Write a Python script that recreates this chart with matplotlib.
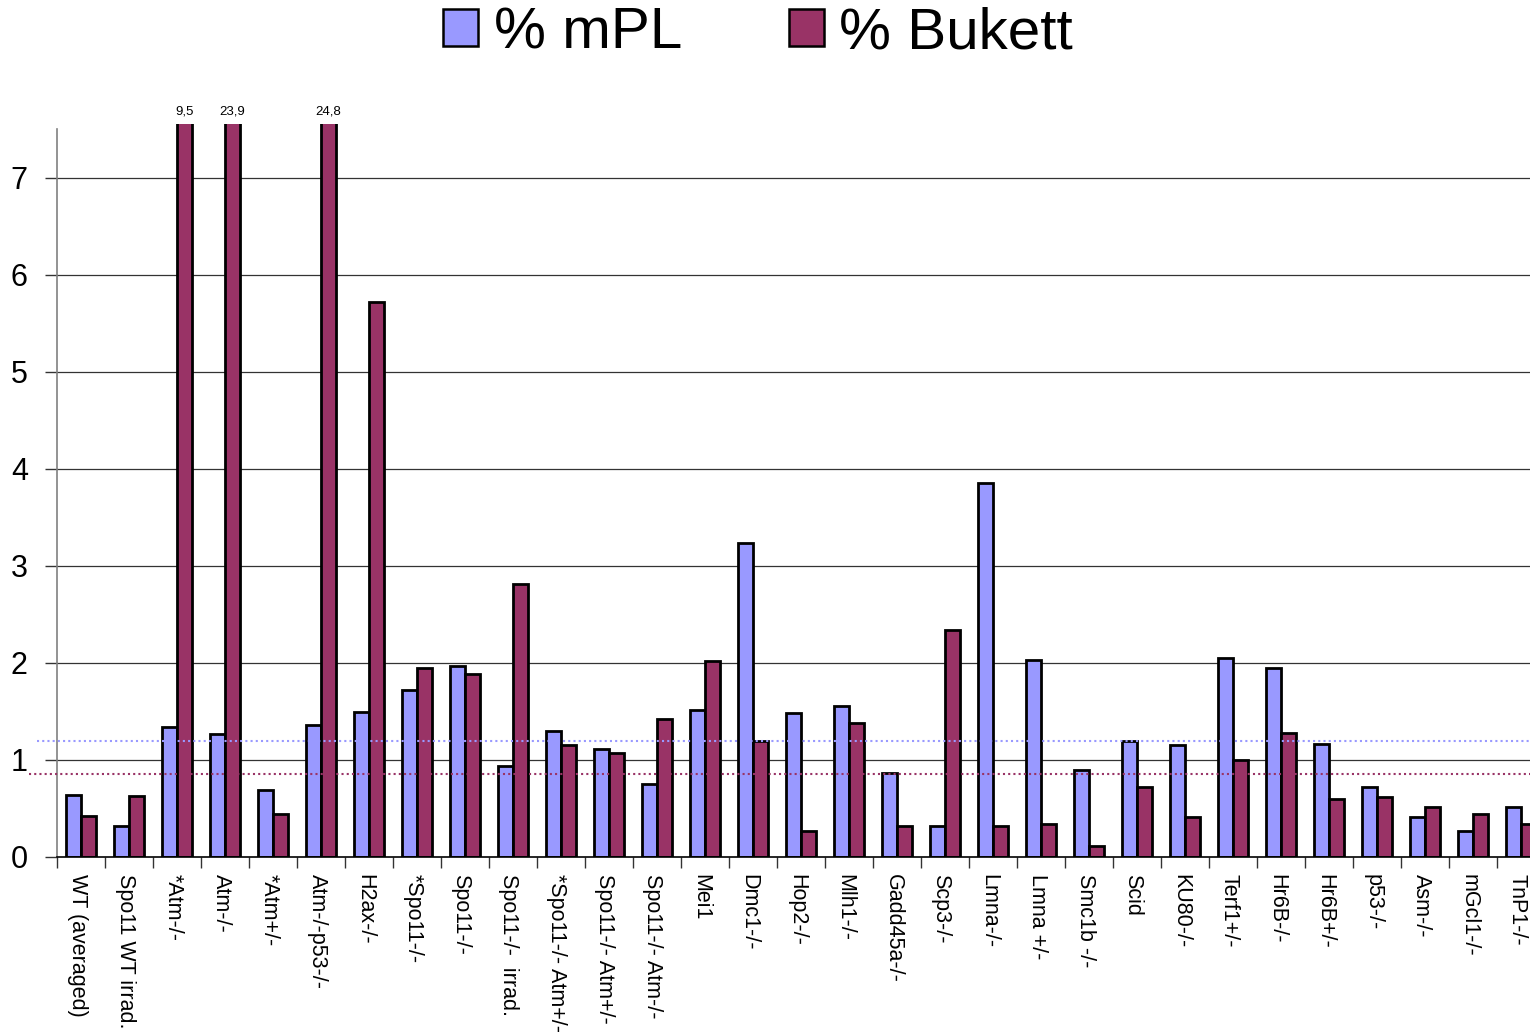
import matplotlib
matplotlib.use("Agg")
import matplotlib.pyplot as plt
import matplotlib.transforms as mtransforms
import numpy as np
from matplotlib.patches import Patch

plt.rcParams['font.family'] = ['Liberation Sans', 'DejaVu Sans']

categories = [
    "WT (averaged)", "Spo11 WT irrad.", "*Atm-/-", "Atm-/-", "*Atm+/-",
    "Atm-/-p53-/-", "H2ax-/-", "*Spo11-/-", "Spo11-/-", "Spo11-/-  irrad.",
    "*Spo11-/- Atm+/-", "Spo11-/- Atm+/-", "Spo11-/- Atm-/-", "Mei1", "Dmc1-/-",
    "Hop2-/-", "Mlh1-/-", "Gadd45a-/-", "Scp3-/-", "Lmna-/-",
    "Lmna +/-", "Smc1b -/-", "Scid", "KU80-/-", "Terf1+/-",
    "Hr6B-/-", "Hr6B+/-", "p53-/-", "Asm-/-", "mGcl1-/-", "TnP1-/-",
]
mpl_pct = [
    0.64, 0.32, 1.34, 1.27, 0.69,
    1.36, 1.49, 1.72, 1.97, 0.94,
    1.30, 1.11, 0.75, 1.51, 3.24,
    1.48, 1.56, 0.87, 0.32, 3.85,
    2.03, 0.90, 1.19, 1.15, 2.05,
    1.95, 1.16, 0.72, 0.41, 0.27, 0.52,
]
bukett_pct = [
    0.42, 0.63, 9.5, 23.9, 0.44,
    24.8, 5.72, 1.95, 1.89, 2.81,
    1.15, 1.07, 1.42, 2.02, 1.19,
    0.27, 1.38, 0.32, 2.34, 0.32,
    0.34, 0.11, 0.72, 0.41, 1.00,
    1.28, 0.60, 0.62, 0.52, 0.44, 0.34,
]
mpl_mean = 1.19
bukett_mean = 0.86

BLUE = "#9999FF"
RED = "#993366"

W, H = 1530, 1032
fig = plt.figure(figsize=(W / 100, H / 100), dpi=100)
ax_left, ax_bottom, ax_right, ax_top = 57, 857, 1545, 124
ax = fig.add_axes([ax_left / W, (H - ax_bottom) / H,
                   (ax_right - ax_left) / W, (ax_bottom - ax_top) / H])

n = len(categories)
x = np.arange(n)
bw = 0.3125
ymax_axis = 7.5
ytop = ymax_axis * (ax_bottom - ax_top) / (ax_bottom - 129)

ax.bar(x - bw / 2, mpl_pct, bw, color=BLUE, edgecolor="black", linewidth=2.0, zorder=3)
ax.bar(x + bw / 2, bukett_pct, bw, color=RED, edgecolor="black", linewidth=2.0, zorder=3)

ax.set_xlim(-0.5, n - 0.5)
ax.set_ylim(0, ytop)

# values of bars running off the top of the scale
for xi, v in zip(x, bukett_pct):
    if v > ymax_axis:
        ax.text(xi + bw / 2, ytop + 0.13, f"{v:.1f}".replace(".", ","),
                ha="center", va="center", fontsize=9.5, clip_on=False)

# grid lines
for yv in range(1, 8):
    ax.axhline(yv, color="#333333", linewidth=0.9, zorder=1)

# mean reference lines
ax.axhline(mpl_mean, xmin=(37 - ax_left) / (ax_right - ax_left), xmax=1,
           color=BLUE, linestyle=(0, (1, 1.5)), linewidth=1.5, clip_on=False, zorder=4)
ax.axhline(bukett_mean, xmin=(29 - ax_left) / (ax_right - ax_left), xmax=1,
           color=RED, linestyle=(0, (1, 1.5)), linewidth=1.5, clip_on=False, zorder=4)

for s in ["top", "right"]:
    ax.spines[s].set_visible(False)
ax.spines["left"].set_bounds(0, ymax_axis)
ax.spines["left"].set_color("#808080")
ax.spines["left"].set_linewidth(1.2)
ax.spines["bottom"].set_color("black")
ax.spines["bottom"].set_linewidth(1.2)
ax.spines["bottom"].set_zorder(5)

ax.set_yticks(range(0, 8))
ax.tick_params(axis="y", direction="out", length=9, width=1.0, color="#333333",
               labelsize=22, pad=12)

ax.set_xticks(x)
ax.set_xticklabels(categories, rotation=-90, fontsize=15.5, va="top", ha="center")
ax.tick_params(axis="x", which="major", length=0, pad=12)
shift = mtransforms.ScaledTranslation(-4 / 100, 0, fig.dpi_scale_trans)
for lbl in ax.get_xticklabels():
    lbl.set_transform(lbl.get_transform() + shift)
ax.set_xticks(np.arange(-0.5, n, 1.0), minor=True)
ax.tick_params(axis="x", which="minor", direction="out", length=8, width=1.0, color="#333333")

handles = [Patch(facecolor=BLUE, edgecolor="black", linewidth=1.8, label="% mPL"),
           Patch(facecolor=RED, edgecolor="black", linewidth=1.8, label="% Bukett")]
fig.legend(handles=handles, loc="center", bbox_to_anchor=(758 / W, 1 - 33 / H),
           ncol=2, frameon=False, fontsize=42, handlelength=0.6, handleheight=0.6,
           handletextpad=0.26, columnspacing=1.83)

fig.savefig("out.png", dpi=100)
